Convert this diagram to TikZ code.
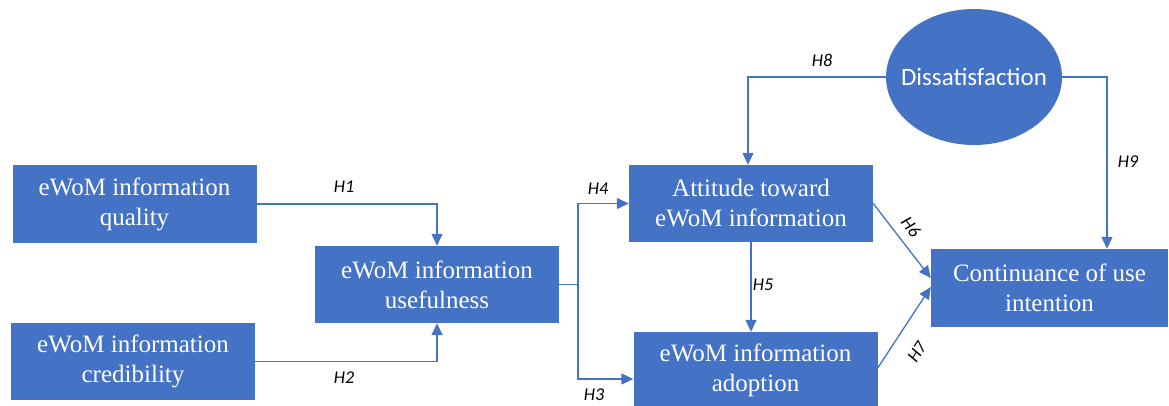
\documentclass[tikz,border=0pt]{standalone}
\usepackage{fontspec}
\setmainfont{Liberation Serif}
\newfontfamily\calfont{Carlito}
\usetikzlibrary{arrows.meta,shapes.geometric}
\definecolor{boxblue}{HTML}{4472C4}
\tikzset{
	cbox/.style={fill=boxblue, text=white, minimum width=244, minimum height=77, inner sep=0, align=center, font=\fontsize{25}{30}\selectfont},
	conn/.style={draw=boxblue, line width=1.3pt, -{Triangle[length=12pt,width=11pt]}},
	plain/.style={draw=boxblue, line width=1.3pt},
	hyp/.style={text=black, inner sep=0, font=\calfont\itshape\fontsize{18}{20}\selectfont}
}

\begin{document}
\begin{tikzpicture}[x=1pt, y=-1pt]
		%%%%% START %%%%%
		\useasboundingbox (0, 0) rectangle (1169, 406);
		
		\node[cbox] (qual) at (134.5, 204) {eWoM information\\quality};
		\node[cbox] (cred) at (133, 361.5) {eWoM information\\credibility};
		\node[cbox] (usef) at (437, 284.5) {eWoM information\\usefulness};
		
		\node[cbox] (att) at (751, 203.5) {Attitude toward\\eWoM information};
		\node[cbox] (adop) at (755.5, 370.5) {eWoM information\\adoption};
		\node[cbox, minimum width=237, minimum height=78] (cont) at (1049.5, 288) {Continuance of use\\intention};
		
		\node[ellipse, fill=boxblue, minimum width=176, minimum height=136, inner sep=0,
			label={[text=white, font=\calfont\fontsize{25}{30}\selectfont]center:Dissatisfaction}] (dis) at (974, 77) {};
		
		\draw[conn] (qual.east) -| (usef.north);
		\draw[conn] (cred.east) -| (usef.south);
		
		\coordinate (split) at (578, 284.5);
		\draw[plain] (usef.east) -- (split);
		\draw[conn] (split) |- (att.west);
		\draw[conn] (split) |- ([yshift=-8.5pt]adop.west);
		
		\draw[conn] (att.south) -- (att.south |- adop.north);
		\draw[conn] (att.east) -- ([yshift=10pt]cont.west);
		\draw[conn] ([yshift=2.5pt]adop.east) -- ([yshift=1pt]cont.west);
		
		\draw[conn] (dis.west) -| ([xshift=-3pt]att.north);
		\draw[conn] (dis.east) -| ([xshift=57.5pt]cont.north);
		
		\node[hyp] (h1) at (344, 187) {H1};
		\node[hyp] (h2) at (344, 378) {H2};
		\node[hyp] (h3) at (594, 395) {H3};
		\node[hyp] (h4) at (598, 189) {H4};
		\node[hyp] (h5) at (763, 285) {H5};
		\node[hyp, rotate=-53] (h6) at (911, 227) {H6};
		\node[hyp, rotate=57] (h7) at (917, 352) {H7};
		\node[hyp] (h8) at (822, 60) {H8};
		\node[hyp] (h9) at (1128, 162) {H9};
		
		%%%%% END %%%%%
	\end{tikzpicture}
\end{document}
